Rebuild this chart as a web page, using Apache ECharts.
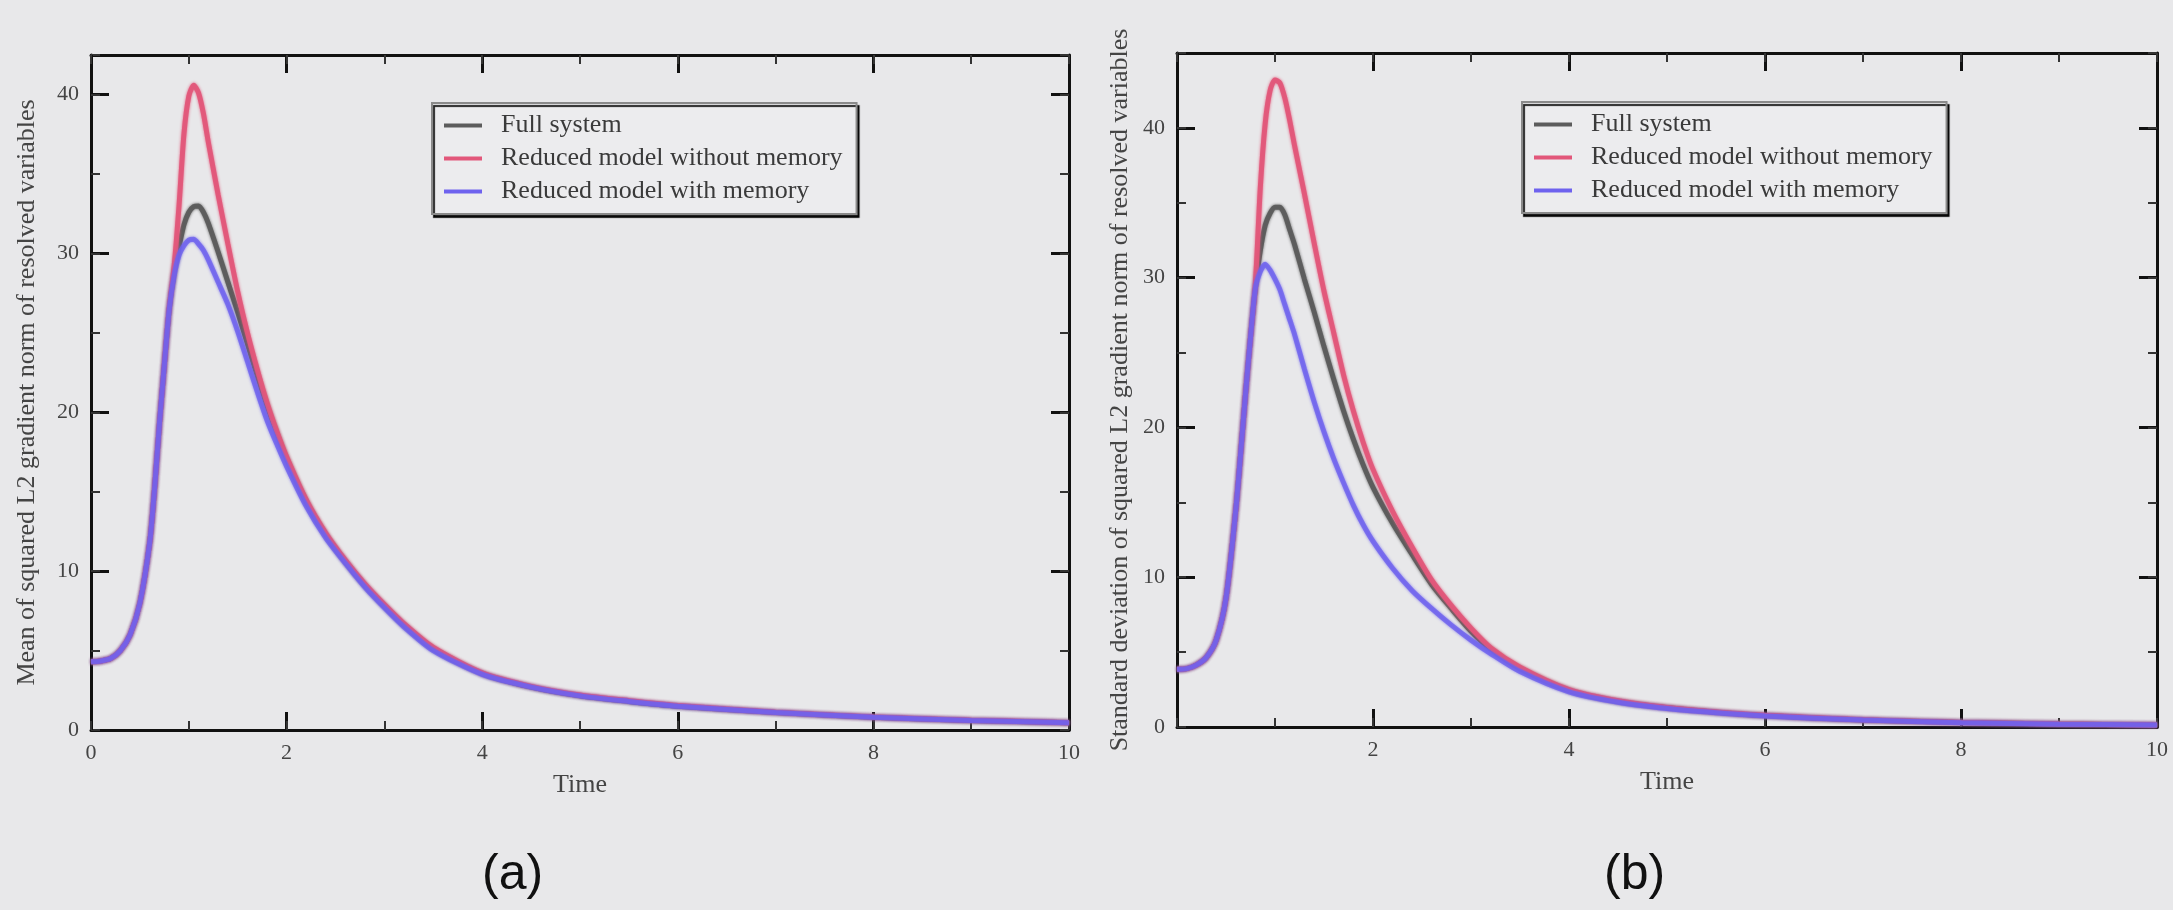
<!DOCTYPE html>
<html>
<head>
<meta charset="utf-8">
<script src="https://cdn.jsdelivr.net/npm/echarts@6/dist/echarts.min.js"></script>
<style>
html,body{margin:0;padding:0;background:#e8e8ea;}
#chart{width:2173px;height:910px;}
</style>
</head>
<body>
<div id="chart"></div>
<script>
// ---------- data ----------
const seriesNames = ["Full system", "Reduced model without memory", "Reduced model with memory"];
const xTicks = [0, 2, 4, 6, 8, 10];
const yTicks = [0, 10, 20, 30, 40];

// time grid (shared by both panels)
const time = [0, 0.1, 0.2, 0.3, 0.4, 0.5, 0.6, 0.65, 0.7, 0.75, 0.8, 0.85, 0.9, 0.95, 1.0, 1.05, 1.1, 1.15, 1.2,
  1.3, 1.4, 1.5, 1.6, 1.7, 1.8, 1.9, 2.0, 2.2, 2.4, 2.6, 2.8, 3.0, 3.2, 3.5, 4.0, 4.5, 5.0, 5.5, 6.0, 7.0, 8.0, 9.0, 10.0];

// (a) mean of squared L2 gradient norm
const meanFull = [4.3, 4.35, 4.5, 5.0, 6.0, 8.0, 11.8, 15.2, 19.3, 23.0, 26.5, 28.8, 30.4, 31.8, 32.6, 32.95, 33.0, 32.6, 31.9,
  30.1, 28.2, 26.3, 24.3, 22.3, 20.4, 18.7, 17.1, 14.4, 12.3, 10.6, 9.1, 7.8, 6.6, 5.1, 3.55, 2.7, 2.15, 1.8, 1.5, 1.1, 0.8, 0.6, 0.45];
const meanNoMem = [4.3, 4.35, 4.5, 5.0, 6.0, 8.0, 11.8, 15.2, 19.3, 23.0, 26.6, 29.2, 33.0, 37.5, 39.9, 40.6, 40.1, 38.8, 37.0,
  33.7, 30.6, 27.6, 25.0, 22.7, 20.6, 18.8, 17.2, 14.5, 12.4, 10.7, 9.2, 7.9, 6.7, 5.2, 3.6, 2.75, 2.2, 1.85, 1.55, 1.12, 0.82, 0.62, 0.46];
const meanMem = [4.3, 4.35, 4.5, 5.0, 6.0, 8.0, 11.8, 15.2, 19.3, 23.0, 26.5, 28.6, 29.9, 30.5, 30.85, 30.9, 30.6, 30.2, 29.6,
  28.2, 26.8, 25.1, 23.2, 21.3, 19.5, 18.0, 16.6, 14.1, 12.1, 10.5, 9.0, 7.7, 6.5, 5.0, 3.5, 2.7, 2.15, 1.8, 1.5, 1.1, 0.8, 0.6, 0.45];

// (b) standard deviation of squared L2 gradient norm
const sdFull = [3.85, 3.9, 4.15, 4.65, 5.8, 8.6, 14.5, 18.3, 22.3, 26.0, 29.3, 31.8, 33.5, 34.3, 34.7, 34.7, 34.2, 33.2, 32.2,
  29.9, 27.7, 25.4, 23.2, 21.1, 19.2, 17.5, 16.0, 13.6, 11.5, 9.5, 7.9, 6.4, 5.2, 3.9, 2.45, 1.7, 1.28, 0.98, 0.76, 0.47, 0.3, 0.2, 0.13];
const sdNoMem = [3.85, 3.9, 4.15, 4.65, 5.8, 8.6, 14.5, 18.3, 22.3, 26.0, 29.6, 36.0, 40.3, 42.5, 43.2, 43.0, 42.0, 40.5, 38.8,
  35.6, 32.3, 29.1, 26.3, 23.5, 21.1, 19.0, 17.2, 14.4, 12.0, 9.8, 8.1, 6.6, 5.3, 4.0, 2.5, 1.75, 1.3, 1.0, 0.78, 0.48, 0.3, 0.2, 0.13];
const sdMem = [3.85, 3.9, 4.15, 4.65, 5.8, 8.6, 14.5, 18.3, 22.3, 26.0, 29.3, 30.4, 30.9, 30.5, 29.9, 29.2, 28.2, 27.2, 26.2,
  23.9, 21.7, 19.7, 17.9, 16.3, 14.8, 13.5, 12.4, 10.6, 9.1, 7.9, 6.8, 5.8, 4.9, 3.7, 2.35, 1.65, 1.23, 0.95, 0.74, 0.46, 0.29, 0.19, 0.13];

// ---------- styling ----------
const colors = ['#5c5c5c', '#e2577a', '#6e62ee'];
const serif = 'Liberation Serif';
const pair = (ys) => time.map((t, i) => [t, ys[i]]);

const lineColor = '#111';
function xAxes(grid, showZero) {
  const base = {
    type: 'value', gridIndex: grid, min: 0, max: 10, splitLine: { show: false },
  };
  return [
    Object.assign({}, base, {
      position: 'bottom', interval: 2,
      axisLine: { show: true, onZero: false, lineStyle: { color: lineColor, width: 3 } },
      axisTick: { show: true, inside: true, length: 18, lineStyle: { color: lineColor, width: 3 } },
      axisLabel: {
        show: true, margin: 12, fontFamily: serif, fontSize: 22, color: '#444',
        formatter: v => (xTicks.indexOf(v) >= 0 && (showZero || v !== 0)) ? String(v) : ''
      },
      name: 'Time', nameLocation: 'middle', nameGap: 42,
      nameTextStyle: { fontFamily: serif, fontSize: 26, color: '#444' }
    }),
    Object.assign({}, base, {
      position: 'bottom', interval: 1,
      axisLine: { show: false, onZero: false },
      axisTick: { show: true, inside: true, length: 9, lineStyle: { color: '#333', width: 2 } },
      axisLabel: { show: false }
    }),
    Object.assign({}, base, {
      position: 'top', interval: 2,
      axisLine: { show: true, onZero: false, lineStyle: { color: lineColor, width: 3 } },
      axisTick: { show: true, inside: true, length: 18, lineStyle: { color: lineColor, width: 3 } },
      axisLabel: { show: false }
    }),
    Object.assign({}, base, {
      position: 'top', interval: 1,
      axisLine: { show: false, onZero: false },
      axisTick: { show: true, inside: true, length: 9, lineStyle: { color: '#333', width: 2 } },
      axisLabel: { show: false }
    })
  ];
}
function yAxes(grid, max, name, gap) {
  const base = { type: 'value', gridIndex: grid, min: 0, max: max, splitLine: { show: false } };
  return [
    Object.assign({}, base, {
      position: 'left', interval: 10,
      axisLine: { show: true, onZero: false, lineStyle: { color: lineColor, width: 3 } },
      axisTick: { show: true, inside: true, length: 18, lineStyle: { color: lineColor, width: 3 } },
      axisLabel: {
        show: true, margin: 12, fontFamily: serif, fontSize: 22, color: '#444',
        formatter: v => yTicks.indexOf(v) >= 0 ? String(v) : ''
      },
      name: name, nameLocation: 'middle', nameGap: gap, nameRotate: 90,
      nameTextStyle: { fontFamily: serif, fontSize: 26, color: '#444' }
    }),
    Object.assign({}, base, {
      position: 'left', interval: 5,
      axisLine: { show: false, onZero: false },
      axisTick: { show: true, inside: true, length: 9, lineStyle: { color: '#333', width: 2 } },
      axisLabel: { show: false }
    }),
    Object.assign({}, base, {
      position: 'right', interval: 10,
      axisLine: { show: true, onZero: false, lineStyle: { color: lineColor, width: 3 } },
      axisTick: { show: true, inside: true, length: 18, lineStyle: { color: lineColor, width: 3 } },
      axisLabel: { show: false }
    }),
    Object.assign({}, base, {
      position: 'right', interval: 5,
      axisLine: { show: false, onZero: false },
      axisTick: { show: true, inside: true, length: 9, lineStyle: { color: '#333', width: 2 } },
      axisLabel: { show: false }
    })
  ];
}

function mkSeries(grid, arrays) {
  // draw order: full, no-memory, with-memory (on top)
  return arrays.map((ys, i) => ({
    name: seriesNames[i], type: 'line', xAxisIndex: grid * 4, yAxisIndex: grid * 4,
    data: pair(ys), symbol: 'none', smooth: 0.25, color: colors[i],
    lineStyle: {
      width: 5, color: colors[i], opacity: i === 2 ? 0.8 : 0.95,
      shadowColor: colors[i], shadowBlur: 3
    },
    z: 2 + i, silent: true
  }));
}

function mkLegend(left, top) {
  return {
    left: left, top: top, orient: 'vertical', data: seriesNames,
    icon: 'rect', itemWidth: 38, itemHeight: 4, itemGap: 4,
    padding: [8, 14, 8, 12],
    backgroundColor: '#ececee', borderColor: '#8a8a8a', borderWidth: 2,
    shadowColor: 'rgba(0,0,0,0.85)', shadowOffsetX: 2, shadowOffsetY: 3, shadowBlur: 1,
    textStyle: { fontFamily: serif, fontSize: 26, color: '#3a3a3a', lineHeight: 29, padding: [0, 0, 0, 14] },
    selectedMode: false
  };
}

const chart = echarts.init(document.getElementById('chart'), null, { renderer: 'canvas' });
chart.setOption({
  backgroundColor: '#e8e8ea',
  animation: false,
  grid: [
    { left: 91, top: 55, width: 978, height: 675, containLabel: false },
    { left: 1177, top: 53, width: 980, height: 674, containLabel: false }
  ],
  xAxis: [].concat(xAxes(0, true), xAxes(1, false)),
  yAxis: [].concat(
    yAxes(0, 42.5, 'Mean of squared L2 gradient norm of resolved variables', 51),
    yAxes(1, 45, 'Standard deviation of squared L2 gradient norm of resolved variables', 44)
  ),
  legend: [mkLegend(432, 103), mkLegend(1522, 102)],
  series: [].concat(
    mkSeries(0, [meanFull, meanNoMem, meanMem]),
    mkSeries(1, [sdFull, sdNoMem, sdMem])
  ),
  graphic: [
    { type: 'text', left: 482, top: 850, style: { text: '(a)', font: '50px "Liberation Sans"', fill: '#111' } },
    { type: 'text', left: 1604, top: 850, style: { text: '(b)', font: '50px "Liberation Sans"', fill: '#111' } }
  ]
});
</script>
</body>
</html>
